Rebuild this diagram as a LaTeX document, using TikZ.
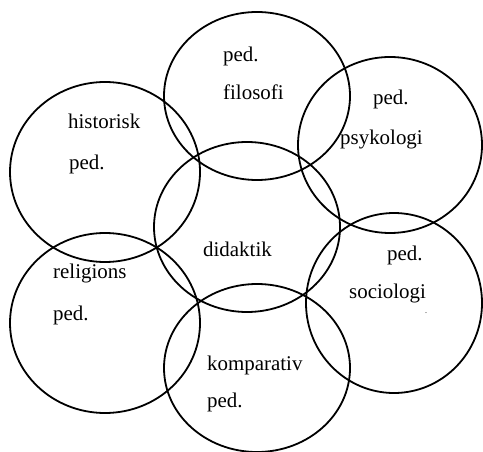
\documentclass[tikz,border=0pt]{standalone}
\usepackage{fontspec}
\setmainfont{Liberation Serif}
\begin{document}
\begin{tikzpicture}[x=1bp, y=-1bp,
   ring/.style={line width=1.8bp},
   lbl/.style={anchor=base west, inner sep=0pt, font=\fontsize{21}{25}\selectfont}]
   \useasboundingbox (0,0) rectangle (483,452);
   % Rings
   \draw[ring] (257,96) ellipse [x radius=93, y radius=84];   % filosofi
   \draw[ring] (390,145) ellipse [x radius=92, y radius=88];  % psykologi
   \draw[ring] (105,172) ellipse [x radius=95, y radius=90];  % historisk
   \draw[ring] (247,227) ellipse [x radius=93, y radius=85];  % didaktik
   \draw[ring] (394,303) ellipse [x radius=88, y radius=90];  % sociologi
   \draw[ring] (105,323) ellipse [x radius=95, y radius=90];  % religions
   \draw[ring] (257,368) ellipse [x radius=93, y radius=84];  % komparativ
   % Labels
   \node[lbl] (filA) at (223,62) {ped.};
   \node[lbl] (filB) at (223,100) {filosofi};
   \node[lbl] (psyA) at (373,105) {ped.};
   \node[lbl] (psyB) at (340,145) {psykologi};
   \node[lbl] (hisA) at (68,129) {historisk};
   \node[lbl] (hisB) at (69,170) {ped.};
   \node[lbl] (did) at (203,256) {didaktik};
   \node[lbl] (socA) at (387,260) {ped.};
   \node[lbl] (socB) at (349,298) {sociologi};
   \node[lbl, font=\fontsize{8}{10}\selectfont] (socC) at (425,313) {.};
   \node[lbl] (relA) at (53,278) {religions};
   \node[lbl] (relB) at (53,320) {ped.};
   \node[lbl] (komA) at (207,370) {komparativ};
   \node[lbl] (komB) at (207,407) {ped.};
\end{tikzpicture}
\end{document}
